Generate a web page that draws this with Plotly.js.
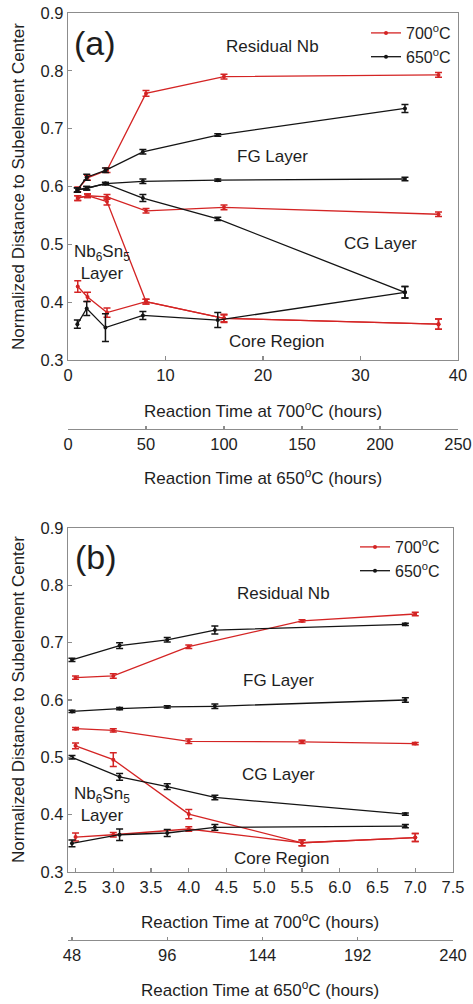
<!DOCTYPE html>
<html>
<head>
<meta charset="utf-8">
<script src="https://cdn.plot.ly/plotly-3.0.1.min.js"></script>
<style>html,body{margin:0;padding:0;background:#fff;}#chart{width:473px;height:1004px;}</style>
</head>
<body>
<div id="chart"></div>
<script>
// ---------- Panel (a) data ----------
const timeA700 = [1, 2, 4, 8, 16, 38];          // hours at 700 C
const timeA650 = [6, 12, 24, 48, 96, 216];      // hours at 650 C

const a700_nbFg   = [0.595, 0.615, 0.628, 0.761, 0.790, 0.793];
const a700_nbFgE  = [0.004, 0.004, 0.004, 0.005, 0.004, 0.004];
const a700_fgCg   = [0.580, 0.584, 0.582, 0.558, 0.564, 0.552];
const a700_fgCgE  = [0.004, 0.003, 0.004, 0.004, 0.004, 0.004];
const a700_cgSn   = [0.580, 0.584, 0.574, 0.401, 0.372, 0.362];
const a700_cgSnE  = [0.004, 0.003, 0.006, 0.004, 0.006, 0.009];
const a700_core   = [0.427, 0.409, 0.382, 0.401, 0.372, 0.362];
const a700_coreE  = [0.010, 0.008, 0.008, 0.004, 0.007, 0.009];

const a650_nbFg   = [0.594, 0.616, 0.628, 0.660, 0.689, 0.735];
const a650_nbFgE  = [0.004, 0.005, 0.004, 0.004, 0.002, 0.007];
const a650_fgCg   = [0.594, 0.597, 0.605, 0.609, 0.611, 0.613];
const a650_fgCgE  = [0.004, 0.003, 0.002, 0.004, 0.002, 0.003];
const a650_cgSn   = [0.594, 0.597, 0.605, 0.580, 0.544, 0.417];
const a650_cgSnE  = [0.004, 0.003, 0.002, 0.006, 0.003, 0.010];
const a650_core   = [0.362, 0.389, 0.356, 0.377, 0.369, 0.417];
const a650_coreE  = [0.007, 0.012, 0.024, 0.007, 0.013, 0.010];

// ---------- Panel (b) data ----------
const timeB700 = [2.5, 3.0, 4.0, 5.5, 7.0];
const timeB650 = [48, 72, 96, 120, 216];

const b700_nbFg   = [0.639, 0.642, 0.693, 0.738, 0.750];
const b700_nbFgE  = [0.003, 0.004, 0.003, 0.002, 0.003];
const b700_fgCg   = [0.550, 0.547, 0.528, 0.527, 0.524];
const b700_fgCgE  = [0.002, 0.003, 0.004, 0.003, 0.002];
const b700_cgSn   = [0.520, 0.496, 0.401, 0.351, 0.360];
const b700_cgSnE  = [0.005, 0.012, 0.008, 0.005, 0.007];
const b700_core   = [0.361, 0.365, 0.375, 0.351, 0.360];
const b700_coreE  = [0.007, 0.004, 0.004, 0.005, 0.007];

const b650_nbFg   = [0.670, 0.695, 0.705, 0.722, 0.732];
const b650_nbFgE  = [0.003, 0.005, 0.004, 0.007, 0.002];
const b650_fgCg   = [0.580, 0.585, 0.588, 0.589, 0.600];
const b650_fgCgE  = [0.002, 0.002, 0.002, 0.004, 0.004];
const b650_cgSn   = [0.500, 0.466, 0.449, 0.430, 0.401];
const b650_cgSnE  = [0.003, 0.006, 0.005, 0.004, 0.002];
const b650_core   = [0.350, 0.365, 0.368, 0.378, 0.380];
const b650_coreE  = [0.006, 0.010, 0.006, 0.005, 0.003];

const legendNames = ['700<sup>o</sup>C', '650<sup>o</sup>C'];
const yTitle = 'Normalized Distance to Subelement Center';
const x700Title = 'Reaction Time at 700<sup>o</sup>C (hours)';
const x650Title = 'Reaction Time at 650<sup>o</sup>C (hours)';

const RED = 'rgb(212,36,36)';
const BLK = 'rgb(20,20,20)';

function tr(x, y, e, color, xa, ya, name, legend, show) {
  return {
    type: 'scatter', mode: 'lines+markers', x: x, y: y,
    xaxis: xa, yaxis: ya, name: name, legend: legend, showlegend: show,
    line: {color: color, width: 1.3},
    marker: {color: color, size: 4},
    error_y: {type: 'data', array: e, visible: true, color: color, thickness: 1.5, width: 3.5}
  };
}

const data = [
  tr(timeA700, a700_nbFg, a700_nbFgE, RED, 'x', 'y', legendNames[0], 'legend', true),
  tr(timeA700, a700_fgCg, a700_fgCgE, RED, 'x', 'y', legendNames[0], 'legend', false),
  tr(timeA700, a700_cgSn, a700_cgSnE, RED, 'x', 'y', legendNames[0], 'legend', false),
  tr(timeA700, a700_core, a700_coreE, RED, 'x', 'y', legendNames[0], 'legend', false),
  tr(timeA650, a650_nbFg, a650_nbFgE, BLK, 'x2', 'y', legendNames[1], 'legend', true),
  tr(timeA650, a650_fgCg, a650_fgCgE, BLK, 'x2', 'y', legendNames[1], 'legend', false),
  tr(timeA650, a650_cgSn, a650_cgSnE, BLK, 'x2', 'y', legendNames[1], 'legend', false),
  tr(timeA650, a650_core, a650_coreE, BLK, 'x2', 'y', legendNames[1], 'legend', false),

  tr(timeB700, b700_nbFg, b700_nbFgE, RED, 'x3', 'y2', legendNames[0], 'legend2', true),
  tr(timeB700, b700_fgCg, b700_fgCgE, RED, 'x3', 'y2', legendNames[0], 'legend2', false),
  tr(timeB700, b700_cgSn, b700_cgSnE, RED, 'x3', 'y2', legendNames[0], 'legend2', false),
  tr(timeB700, b700_core, b700_coreE, RED, 'x3', 'y2', legendNames[0], 'legend2', false),
  tr(timeB650, b650_nbFg, b650_nbFgE, BLK, 'x4', 'y2', legendNames[1], 'legend2', true),
  tr(timeB650, b650_fgCg, b650_fgCgE, BLK, 'x4', 'y2', legendNames[1], 'legend2', false),
  tr(timeB650, b650_cgSn, b650_cgSnE, BLK, 'x4', 'y2', legendNames[1], 'legend2', false),
  tr(timeB650, b650_core, b650_coreE, BLK, 'x4', 'y2', legendNames[1], 'legend2', false)
];

const W = 473, H = 1004;
const px = v => v / W;
const py = v => 1 - v / H;

const FONT = 'Liberation Sans, Arial, sans-serif';
const AX = 'rgb(140,140,140)';
const TXT = 'rgb(30,30,30)';
const TICK = 16.5, TITLE = 17, LABEL = 17;

function axBase(extra) {
  return Object.assign({
    showline: true, linecolor: AX, linewidth: 1.2,
    ticks: 'inside', ticklen: 4, tickcolor: AX, tickwidth: 1.2,
    showgrid: false, zeroline: false,
    tickfont: {family: FONT, size: TICK, color: TXT}
  }, extra);
}

const layout = {
  width: W, height: H,
  margin: {l: 0, r: 0, t: 0, b: 0},
  paper_bgcolor: '#fff', plot_bgcolor: '#fff',
  font: {family: FONT, size: 16, color: TXT},
  xaxis: axBase({domain: [px(68), px(458)], anchor: 'y', range: [0, 40], tickvals: [0, 10, 20, 30, 40], mirror: true}),
  xaxis2: axBase({overlaying: 'x', anchor: 'free', position: py(429), side: 'bottom', range: [0, 250], tickvals: [0, 50, 100, 150, 200, 250], ticklen: 3}),
  yaxis: axBase({domain: [py(360), py(13)], anchor: 'x', range: [0.3, 0.9], tickvals: [0.3, 0.4, 0.5, 0.6, 0.7, 0.8, 0.9], tickformat: '.1f', mirror: true}),
  xaxis3: axBase({domain: [px(68), px(453)], anchor: 'y2', range: [2.4, 7.5], tickvals: [2.5, 3, 3.5, 4, 4.5, 5, 5.5, 6, 6.5, 7, 7.5], tickformat: '.1f', mirror: true}),
  xaxis4: axBase({overlaying: 'x3', anchor: 'free', position: py(940), side: 'bottom', range: [46, 240], tickvals: [48, 96, 144, 192, 240], ticklen: 3}),
  yaxis2: axBase({domain: [py(872), py(528)], anchor: 'x3', range: [0.3, 0.9], tickvals: [0.3, 0.4, 0.5, 0.6, 0.7, 0.8, 0.9], tickformat: '.1f', mirror: true}),
  legend: {x: px(366), y: py(16), xanchor: 'left', yanchor: 'top', bgcolor: 'rgba(0,0,0,0)',
           font: {family: FONT, size: 16, color: TXT}, tracegroupgap: 0, itemwidth: 30},
  legend2: {x: px(355), y: py(530), xanchor: 'left', yanchor: 'top', bgcolor: 'rgba(0,0,0,0)',
           font: {family: FONT, size: 16, color: TXT}, tracegroupgap: 0, itemwidth: 30},
  annotations: []
};

function ann(text, x, y, size, extra) {
  return Object.assign({text: text, x: px(x), y: py(y), xref: 'paper', yref: 'paper',
    showarrow: false, xanchor: 'center', yanchor: 'middle',
    font: {family: FONT, size: size, color: TXT}}, extra || {});
}

const nbLayer = 'Nb<sub>6</sub>Sn<sub>5</sub><br>Layer';

layout.annotations.push(
  ann(yTitle, 18, 187, TITLE, {textangle: -90}),
  ann(yTitle, 18, 700, TITLE, {textangle: -90}),
  ann(x700Title, 263, 410, TITLE),
  ann(x650Title, 263, 477, TITLE),
  ann(x700Title, 260, 921, TITLE),
  ann(x650Title, 260, 989, TITLE),
  ann('(a)', 95, 43, 34),
  ann('(b)', 96, 557, 34),
  ann('Residual Nb', 272, 47, LABEL),
  ann('FG Layer', 272, 157, LABEL),
  ann('CG Layer', 380, 243, LABEL),
  ann(nbLayer, 102, 262, LABEL),
  ann('Core Region', 276, 342, LABEL),
  ann('Residual Nb', 283, 593, LABEL),
  ann('FG Layer', 278, 680, LABEL),
  ann('CG Layer', 278, 774, LABEL),
  ann(nbLayer, 102, 804, LABEL),
  ann('Core Region', 281, 858, LABEL)
);

Plotly.newPlot('chart', data, layout, {staticPlot: true, displayModeBar: false});
</script>
</body>
</html>
